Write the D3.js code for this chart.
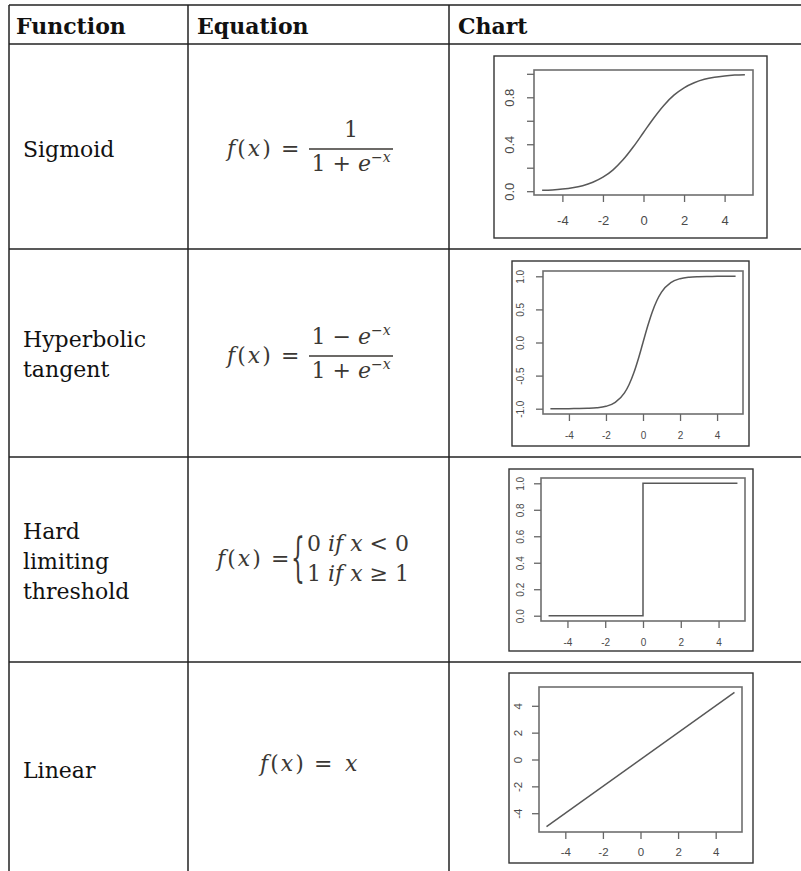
<!DOCTYPE html>
<html lang="en">
<head>
<meta charset="utf-8">
<title>Activation functions</title>
<script src="https://d3js.org/d3.v7.min.js"></script>
<style>
  body { margin: 0; padding: 0; background: #fff; }
  .grid { stroke: #222; stroke-width: 1.5px; }
  .head { font-family: 'DejaVu Serif'; font-weight: bold; font-size: 22px; fill: #111; }
  .label { font-family: 'DejaVu Serif'; font-size: 22px; fill: #111; }
  .eq { font-family: 'DejaVu Serif'; font-size: 22px; fill: #3b3834; }
  .frame { fill: #fff; stroke: #333; stroke-width: 1.4px; }
  .box { fill: none; stroke: #6e6e6e; stroke-width: 1.6px; }
  .curve { fill: none; stroke: #585858; stroke-width: 1.5px; }
  .axis line { stroke: #666; stroke-width: 1.3px; }
  .axis text { font-family: 'Liberation Sans'; fill: #4a4a4a; }
</style>
</head>
<body>
<script>
// --- data ---
var headers = ["Function", "Equation", "Chart"];
var functionNames = [["Sigmoid"], ["Hyperbolic", "tangent"], ["Hard", "limiting", "threshold"], ["Linear"]];

var xTicks = [-4, -2, 0, 2, 4];

var sigmoidX = [-5, -4.5, -4, -3.5, -3, -2.5, -2, -1.5, -1, -0.5, 0, 0.5, 1, 1.5, 2, 2.5, 3, 3.5, 4, 4.5, 5];
var sigmoidY = [0.007, 0.011, 0.018, 0.029, 0.047, 0.076, 0.119, 0.182, 0.269, 0.378, 0.5,
                0.622, 0.731, 0.818, 0.881, 0.924, 0.953, 0.971, 0.982, 0.989, 0.993];
var sigmoidYTicks = [0, 0.2, 0.4, 0.6, 0.8, 1.0];
var sigmoidYLabels = [0, 0.4, 0.8];

var tanhX = [-5, -4.5, -4, -3.5, -3, -2.5, -2, -1.5, -1, -0.75, -0.5, -0.25, 0, 0.25, 0.5, 0.75, 1, 1.5, 2, 2.5, 3, 3.5, 4, 4.5, 5];
var tanhY = [-1.0, -1.0, -0.999, -0.998, -0.995, -0.987, -0.964, -0.905, -0.762, -0.635, -0.462, -0.245, 0,
             0.245, 0.462, 0.635, 0.762, 0.905, 0.964, 0.987, 0.995, 0.998, 0.999, 1.0, 1.0];
var tanhYTicks = [-1.0, -0.5, 0.0, 0.5, 1.0];

var thresholdX = [-5, 0, 0, 5];
var thresholdY = [0, 0, 1, 1];
var thresholdYTicks = [0, 0.2, 0.4, 0.6, 0.8, 1.0];

var linearX = [-5, 5];
var linearY = [-5, 5];
var linearYTicks = [-4, -2, 0, 2, 4];

// --- layout ---
var width = 801, height = 871;
var colX = [9, 188, 449];
var rowY = [5, 44, 249, 457, 662];

var svg = d3.select("body").append("svg")
    .attr("width", width)
    .attr("height", height);

// table lines
rowY.forEach(function(y) {
  svg.append("line").attr("class", "grid")
    .attr("x1", colX[0]).attr("x2", width).attr("y1", y).attr("y2", y);
});
colX.forEach(function(x) {
  svg.append("line").attr("class", "grid")
    .attr("x1", x).attr("x2", x).attr("y1", rowY[0]).attr("y2", height);
});

// header
var headX = [16, 197, 458];
headers.forEach(function(h, i) {
  svg.append("text").attr("class", "head")
    .attr("x", headX[i]).attr("y", 34).text(h);
});

// first column
var labelBase = [[157], [347, 377], [539, 569, 599], [778]];
functionNames.forEach(function(lines, i) {
  lines.forEach(function(s, j) {
    svg.append("text").attr("class", "label")
      .attr("x", 23).attr("y", labelBase[i][j]).text(s);
  });
});

// equations
function fx(g, x, y) {
  var t = g.append("text").attr("class", "eq").attr("x", x).attr("y", y)
    .style("letter-spacing", "2px");
  t.append("tspan").attr("font-style", "italic").text("f");
  t.append("tspan").text("(");
  t.append("tspan").attr("font-style", "italic").text("x");
  t.append("tspan").text(")");
  g.append("text").attr("class", "eq").attr("x", x + 54).attr("y", y).text("=");
}
function expo(t, pre) {
  t.append("tspan").text(pre);
  t.append("tspan").attr("font-style", "italic").text("e");
  t.append("tspan").attr("font-size", 14).attr("dy", -9).attr("font-style", "italic").text("\u2212x");
}
function fraction(g, x, bar, x1, x2, num) {
  fx(g, x, bar + 7);
  g.append("line").attr("x1", x1).attr("x2", x2).attr("y1", bar).attr("y2", bar)
    .attr("stroke", "#3b3834").attr("stroke-width", 1.4);
  var n = g.append("text").attr("class", "eq").attr("x", (x1 + x2) / 2).attr("y", bar - 12)
    .attr("text-anchor", "middle");
  if (num) expo(n, "1 \u2212 "); else n.text("1");
  var d = g.append("text").attr("class", "eq").attr("x", (x1 + x2) / 2).attr("y", bar + 22)
    .attr("text-anchor", "middle");
  expo(d, "1 + ");
}
var eqs = svg.append("g");
fraction(eqs, 227, 149, 309, 393, false);
fraction(eqs, 227, 356, 309, 393, true);

fx(eqs, 217, 566);
eqs.append("text").attr("class", "eq")
  .attr("transform", "translate(291,575) scale(0.42,1)")
  .style("font-size", "52px").text("{");
var l1 = eqs.append("text").attr("class", "eq").attr("x", 307).attr("y", 551);
l1.append("tspan").text("0 ");
l1.append("tspan").attr("font-style", "italic").text("if x");
l1.append("tspan").text(" < 0");
var l2 = eqs.append("text").attr("class", "eq").attr("x", 307).attr("y", 581);
l2.append("tspan").text("1 ");
l2.append("tspan").attr("font-style", "italic").text("if  x");
l2.append("tspan").text(" \u2265 1");

fx(eqs, 260, 771);
eqs.append("text").attr("class", "eq").attr("x", 345).attr("y", 771)
  .attr("font-style", "italic").text("x");

// charts
var charts = [
  {x: sigmoidX, y: sigmoidY, yTicks: sigmoidYTicks, yLabels: sigmoidYLabels, curve: d3.curveMonotoneX,
   outer: [494, 56, 767, 238], inner: [534, 70, 753, 195], fs: 13, gapX: 14, gapY: 25},
  {x: tanhX, y: tanhY, yTicks: tanhYTicks, yLabels: tanhYTicks, curve: d3.curveMonotoneX,
   outer: [512, 261, 749, 446], inner: [543, 271, 743, 414], fs: 10, gapX: 11, gapY: 23},
  {x: thresholdX, y: thresholdY, yTicks: thresholdYTicks, yLabels: thresholdYTicks, curve: d3.curveLinear,
   outer: [509, 469, 753, 651], inner: [541, 478, 745, 621], fs: 10, gapX: 11, gapY: 21},
  {x: linearX, y: linearY, yTicks: linearYTicks, yLabels: linearYTicks, curve: d3.curveLinear,
   outer: [509, 673, 753, 863], inner: [539, 687, 742, 832], fs: 11.5, gapX: 9, gapY: 21}
];

function pad(ext) {
  var p = (ext[1] - ext[0]) * 0.04;
  return [ext[0] - p, ext[1] + p];
}

charts.forEach(function(c) {
  var g = svg.append("g");
  g.append("rect").attr("class", "frame")
    .attr("x", c.outer[0]).attr("y", c.outer[1])
    .attr("width", c.outer[2] - c.outer[0]).attr("height", c.outer[3] - c.outer[1]);

  var xs = d3.scaleLinear().domain(pad(d3.extent(c.x))).range([c.inner[0], c.inner[2]]);
  var ys = d3.scaleLinear().domain(pad(d3.extent(c.y))).range([c.inner[3], c.inner[1]]);

  var pts = c.x.map(function(v, i) { return [v, c.y[i]]; });
  var line = d3.line().curve(c.curve)
    .x(function(d) { return xs(d[0]); })
    .y(function(d) { return ys(d[1]); });
  g.append("path").attr("class", "curve").attr("d", line(pts));

  g.append("rect").attr("class", "box")
    .attr("x", c.inner[0]).attr("y", c.inner[1])
    .attr("width", c.inner[2] - c.inner[0]).attr("height", c.inner[3] - c.inner[1]);

  var ax = g.append("g").attr("class", "axis")
    .attr("transform", "translate(0," + c.inner[3] + ")")
    .call(d3.axisBottom(xs).tickValues(xTicks).tickSize(7).tickPadding(c.gapX)
      .tickFormat(function(d) { return String(d); }));
  ax.select(".domain").remove();
  ax.selectAll("text").attr("font-size", c.fs);

  var integer = d3.max(c.yTicks) > 2;
  var ay = g.append("g").attr("class", "axis")
    .attr("transform", "translate(" + c.inner[0] + ",0)")
    .call(d3.axisLeft(ys).tickValues(c.yTicks).tickSize(7)
      .tickFormat(function(d) {
        if (c.yLabels.indexOf(d) < 0) return "";
        return integer ? String(d) : d.toFixed(1);
      }));
  ay.select(".domain").remove();
  ay.selectAll("text")
    .attr("font-size", c.fs)
    .attr("transform", "rotate(-90)")
    .attr("text-anchor", "middle")
    .attr("x", 0)
    .attr("y", -c.gapY)
    .attr("dy", "0.35em");
});
</script>
</body>
</html>
